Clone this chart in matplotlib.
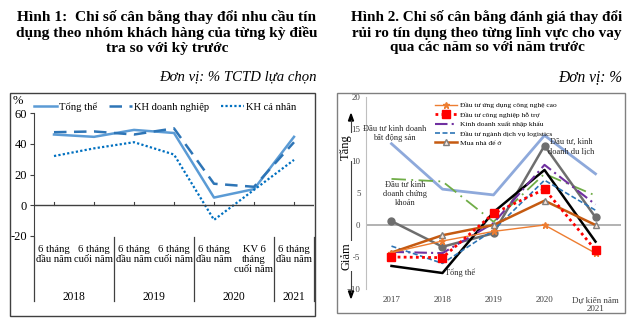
import matplotlib
matplotlib.use("Agg")
import matplotlib.pyplot as plt
import matplotlib.transforms as mtransforms
from matplotlib.patches import Rectangle

plt.rcParams['font.family'] = ['Liberation Serif', 'DejaVu Serif']

# ---------------- Data: Figure 1 ----------------
periods = ["6 tháng\nđầu năm", "6 tháng\ncuối năm", "6 tháng\nđầu năm", "6 tháng\ncuối năm",
           "6 tháng\nđầu năm", "KV 6\ntháng\ncuối năm", "6 tháng\nđầu năm"]
years1 = ["2018", "2019", "2020", "2021"]
year_centers = [0.5, 2.5, 4.5, 6.0]
tong_the1 = [46, 44.5, 49, 47, 5, 10.5, 44.5]
kh_doanh_nghiep = [47.5, 48, 46, 50, 14, 12, 41]
kh_ca_nhan = [32, 37, 41, 33, -9.5, 10, 29.5]

# ---------------- Data: Figure 2 ----------------
years2 = ["2017", "2018", "2019", "2020", "Dự kiến năm\n2021"]
cong_nghe_cao = [-4.3, -2.5, -1.0, 0.0, -4.4]
cong_nghiep_ho_tro = [-5.0, -5.1, 1.8, 5.6, -3.9]
xuat_nhap_khau = [-4.2, -4.4, 0.3, 9.4, 3.2]
logistics = [-3.3, -6.0, -0.8, 7.0, 2.3]
mua_nha = [-4.3, -1.6, 0.0, 3.8, 0.0]
bat_dong_san = [12.7, 5.6, 4.7, 14.0, 8.0]
chung_khoan = [7.2, 6.8, 0.5, 8.0, 4.6]
du_lich = [0.6, -3.4, -1.3, 12.4, 1.2]
tong_the2 = [-6.4, -7.5, 2.0, 8.6, -2.6]

W, H = 631, 324
fig = plt.figure(figsize=(W / 100, H / 100), dpi=100)


def fx(px):
    return px / W


def fy(py):
    return (H - py) / H


def axes_px(l, t, r, b):
    return fig.add_axes([fx(l), fy(b), fx(r) - fx(l), (b - t) / H])


# ---------------- Titles ----------------
fig.text(fx(167), fy(32.5), "Hình 1:  Chỉ số cân bằng thay đổi nhu cầu tín\ndụng theo nhóm khách hàng của từng kỳ điều\ntra so với kỳ trước",
         ha='center', va='center', fontsize=11.1, fontweight='bold', linespacing=1.2)
fig.text(fx(317), fy(77), "Đơn vị: % TCTD lựa chọn", ha='right', va='center', fontsize=10.6, style='italic')
fig.text(fx(487), fy(32.5), "Hình 2. Chỉ số cân bằng đánh giá thay đổi\nrủi ro tín dụng theo từng lĩnh vực cho vay\nqua các năm so với năm trước",
         ha='center', va='center', fontsize=10.9, fontweight='bold', linespacing=1.2)
fig.text(fx(622), fy(77), "Đơn vị: %", ha='right', va='center', fontsize=11.2, style='italic')

# frames
fig.patches.append(Rectangle((fx(10), fy(316)), fx(315) - fx(10), (316 - 93) / H,
                             transform=fig.transFigure, fill=False, ec='#404040', lw=1.0))
fig.patches.append(Rectangle((fx(337), fy(313)), fx(625) - fx(337), (313 - 93) / H,
                             transform=fig.transFigure, fill=False, ec='#808080', lw=1.0))

# ---------------- Figure 1 ----------------
ax1 = axes_px(34, 113, 314, 236)
x1 = list(range(len(periods)))
ax1.plot(x1, tong_the1, color='#5B9BD5', lw=1.8, label='Tổng thể')
ax1.plot(x1, kh_doanh_nghiep, color='#2E75B6', lw=1.8, ls=(0, (5, 3)), label='KH doanh nghiệp')
ax1.plot(x1, kh_ca_nhan, color='#0070C0', lw=1.6, ls=(0, (1, 1)), label='KH cá nhân')
ax1.set_xlim(-0.5, 6.5)
ax1.set_ylim(-20, 60)
ax1.set_yticks([-20, 0, 20, 40, 60])
ax1.set_yticklabels(['-20', '0', '20', '40', '60'])
ax1.tick_params(axis='y', length=3, color='#404040', labelsize=9, pad=2, direction='out')
for s in ['top', 'right', 'bottom']:
    ax1.spines[s].set_visible(False)
ax1.spines['left'].set_color('#404040')
ax1.axhline(0, color='#404040', lw=1)
ax1.set_xticks([])
# x ticks on zero line (pointing up)
for xi in x1:
    ax1.plot([xi, xi], [0, 1.8], color='#404040', lw=0.8, clip_on=False)
ax1.patch.set_visible(False)

tr1 = mtransforms.blended_transform_factory(ax1.transData, fig.transFigure)
for i, lab in enumerate(periods):
    ax1.text(i, fy(245.5), lab, transform=tr1, ha='center', va='top', fontsize=7.6, linespacing=1.12)
for xs in [-0.5, 1.5, 3.5, 5.5, 6.5]:
    ax1.plot([xs, xs], [fy(237), fy(301)], transform=tr1, color='#404040', lw=0.9, clip_on=False)
for xc, yl in zip(year_centers, years1):
    ax1.text(xc, fy(297), yl, transform=tr1, ha='center', va='center', fontsize=8.3)

fig.text(fx(18), fy(101), "%", ha='center', va='center', fontsize=9)
leg1 = fig.legend(handles=ax1.get_lines()[:3], loc='center', bbox_to_anchor=(fx(165), fy(107)),
                  ncol=3, frameon=False, fontsize=7.6, handlelength=2.2, handletextpad=0.2,
                  columnspacing=1.1, borderpad=0)

# ---------------- Figure 2 ----------------
ax2 = axes_px(366, 97, 621, 289)
x2 = list(range(len(years2)))
ax2.axhline(0, color='#A6A6A6', lw=1.2, zorder=1)
l_bds, = ax2.plot(x2, bat_dong_san, color='#8EA9DB', lw=2.0, zorder=2)
l_ck, = ax2.plot(x2, chung_khoan, color='#70AD47', lw=1.3, ls=(0, (8, 3, 1, 3)), zorder=2)
l_dl, = ax2.plot(x2, du_lich, color='#6E6E6E', lw=1.8, marker='o', ms=5, zorder=3)
l_tt, = ax2.plot(x2, tong_the2, color='black', lw=1.8, zorder=3)
l_xnk, = ax2.plot(x2, xuat_nhap_khau, color='#7030A0', lw=1.5, ls=(0, (6, 2, 1, 2)), zorder=3,
                  label='Kinh doanh xuất nhập khẩu')
l_log, = ax2.plot(x2, logistics, color='#2E75B6', lw=1.2, ls=(0, (3, 1.5)), zorder=3,
                  label='Đầu tư ngành dịch vụ logistics')
l_mn, = ax2.plot(x2, mua_nha, color='#C55A11', lw=1.8, marker='^', ms=5, mfc='#F8E5DA', mec='#7F7F7F',
                 zorder=4, label='Mua nhà để ở')
l_cnc, = ax2.plot(x2, cong_nghe_cao, color='#ED7D31', lw=1.0, marker='*', ms=5, zorder=4,
                  label='Đầu tư ứng dụng công nghệ cao')
l_cnht, = ax2.plot(x2, cong_nghiep_ho_tro, color='#FF0000', lw=2.0, ls=(0, (1, 1.2)), marker='s', ms=6,
                   zorder=5, label='Đầu tư công nghiệp hỗ trợ')
ax2.set_xlim(-0.5, 4.5)
ax2.set_ylim(-10, 20)
ax2.set_yticks([-10, -5, 0, 5, 10, 15, 20])
ax2.tick_params(axis='y', length=0, labelsize=6.3, pad=4, labelcolor='#404040')
ax2.set_xticks(x2)
ax2.set_xticklabels(years2)
ax2.tick_params(axis='x', length=0, labelsize=6.5, pad=5, labelcolor='#404040')
for lab in ax2.get_xticklabels():
    lab.set_linespacing(1.1)
for s in ['top', 'right', 'bottom']:
    ax2.spines[s].set_visible(False)
ax2.spines['left'].set_color('#BFBFBF')
ax2.patch.set_visible(False)

fig.legend(handles=[l_cnc, l_cnht, l_xnk, l_log, l_mn], loc='upper left',
           bbox_to_anchor=(fx(431), fy(98.5)), frameon=False, fontsize=5.4, handlelength=3.0,
           handletextpad=0.3, labelspacing=0.42, borderpad=0)

ax2.text(0.06, 14.3, "Đầu tư kinh doanh\nbất động sản", ha='center', va='center', fontsize=6,
         color='#262626', linespacing=1.15)
ax2.text(0.27, 4.8, "Đầu tư kinh\ndoanh chứng\nkhoán", ha='center', va='center', fontsize=6,
         color='#262626', linespacing=1.15)
ax2.text(3.53, 12.3, "Đầu tư, kinh\ndoanh du lịch", ha='center', va='center', fontsize=6,
         color='#262626', linespacing=1.15)
ax2.text(1.35, -7.5, "Tổng thể", ha='center', va='center', fontsize=6, color='#262626')

# Tăng / Giảm arrows
fig.add_artist(plt.Line2D([fx(351), fx(351)], [fy(120), fy(292)], color='#404040', lw=0.8))
fig.patches.append(plt.Polygon([[fx(348.5), fy(121)], [fx(353.5), fy(121)], [fx(351), fy(114)]],
                               closed=True, transform=fig.transFigure, color='black'))
fig.patches.append(plt.Polygon([[fx(348.5), fy(291)], [fx(353.5), fy(291)], [fx(351), fy(298)]],
                               closed=True, transform=fig.transFigure, color='black'))
fig.text(fx(346), fy(147), "Tăng", rotation=90, ha='center', va='center', fontsize=9,
         bbox=dict(fc='white', ec='none', pad=0.5))
fig.text(fx(346), fy(256), "Giảm", rotation=90, ha='center', va='center', fontsize=9,
         bbox=dict(fc='white', ec='none', pad=0.5))

fig.savefig("out.png", dpi=100)
